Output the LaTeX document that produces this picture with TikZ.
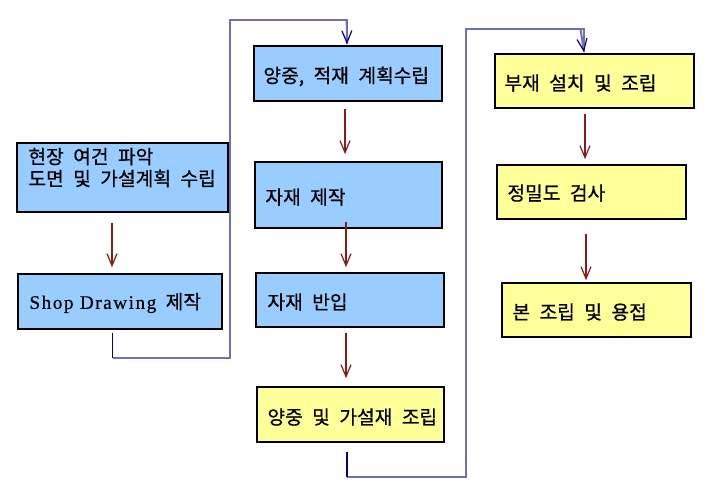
\documentclass[tikz,border=0pt]{standalone}
\usepackage{fontspec}
\setmainfont{Noto Sans CJK KR}[WordSpace=2.2, FakeBold=0.6]
\newfontfamily\latinfont{Liberation Serif}[LetterSpace=8, FakeBold=0.4]
\usetikzlibrary{arrows.meta,calc}
\definecolor{boxblue}{RGB}{153,204,255}
\definecolor{boxyellow}{RGB}{255,255,153}
\definecolor{arrred}{RGB}{139,26,26}
\definecolor{connblue}{RGB}{112,112,184}
\definecolor{connnavy}{RGB}{0,0,128}
\begin{document}
\begin{tikzpicture}[x=0.75pt,y=-0.75pt,
  bbox/.style={draw=black, fill=boxblue, line width=1.2pt, inner sep=0pt},
  ybox/.style={draw=black, fill=boxyellow, line width=1.2pt, inner sep=0pt},
  txt/.style={font=\fontsize{14.4pt}{16.5pt}\selectfont, inner sep=0pt, align=left, anchor=west},
  redarr/.style={draw=arrred, line width=0.9pt, -{Straight Barb[length=9pt,width=7.5pt,line width=0.9pt]}},
  navyline/.style={draw=connnavy, line width=1.1pt},
  conn/.style={draw=connblue, line width=1.5pt, line join=miter},
  connarr/.style={conn, -{Straight Barb[length=9pt,width=7.5pt,line width=0.9pt,color=connnavy]}}]
\useasboundingbox (0,0) rectangle (717,501);
% boxes
\node[bbox, minimum width=158.25pt, minimum height=51.75pt] (b1) at (122.5,177.5) {};
\node[bbox, minimum width=153pt, minimum height=41.25pt] (b2) at (120,301.5) {};
\node[bbox, minimum width=141pt, minimum height=41.25pt] (b3) at (348,73.5) {};
\node[bbox, minimum width=140.25pt, minimum height=49.5pt] (b4) at (348.5,195) {};
\node[bbox, minimum width=141pt, minimum height=40.5pt] (b5) at (350,300) {};
\node[ybox, minimum width=140.25pt, minimum height=41.25pt] (b6) at (350.5,414.5) {};
\node[ybox, minimum width=149.25pt, minimum height=40.5pt] (b7) at (594.5,81) {};
\node[ybox, minimum width=141.75pt, minimum height=40.5pt] (b8) at (591.5,192) {};
\node[ybox, minimum width=141.75pt, minimum height=40.5pt] (b9) at (596.5,310) {};
% texts
\node[txt] (t1) at ([shift={(12,-10)}]b1.west) {현장 여건 파악\\도면 및 가설계획 수립};
\node[txt] (t2) at ([shift={(12,1.5)}]b2.west) {{\latinfont Shop Drawing} 제작};
\node[txt] (t3) at ([shift={(10,3)}]b3.west) {양중, 적재 계획수립};
\node[txt] (t4) at ([shift={(11,2)}]b4.west) {자재 제작};
\node[txt] (t5) at ([shift={(12,2)}]b5.west) {자재 반입};
\node[txt] (t6) at ([shift={(11,2.5)}]b6.west) {양중 및 가설재 조립};
\node[txt] (t7) at ([shift={(10,2)}]b7.west) {부재 설치 및 조립};
\node[txt] (t8) at ([shift={(11,1)}]b8.west) {정밀도 검사};
\node[txt] (t9) at ([shift={(11,2)}]b9.west) {본 조립 및 용접};
% red arrows
\draw[redarr] ([shift={(-10.5,10)}]b1.south) -- ([shift={(-8,-6)}]b2.north);
\draw[redarr] ([shift={(-3,7)}]b3.south) -- ([shift={(-3.5,-7)}]b4.north);
\draw[redarr] ([shift={(-2.5,-7)}]b4.south) -- ([shift={(-4,-5)}]b5.north);
\draw[redarr] ([shift={(-4,5)}]b5.south) -- ([shift={(-4.5,-8)}]b6.north);
\draw[redarr] ([shift={(-9.5,5)}]b7.south) -- ([shift={(-6.5,-5)}]b8.north);
\draw[redarr] ([shift={(-5.5,14)}]b8.south) -- ([shift={(-10.5,-2)}]b9.north);
% blue connectors
\coordinate (k0) at (112.5,358);
\coordinate (k1) at (230,358);
\coordinate (k2) at (230,20);
\draw[conn] (k0) -- (k1) -- (k2) -| ([shift={(-1,-1)}]b3.north);
\draw[connarr] ([xshift=-1]b3.north |- k2) -- ([shift={(-1,-1)}]b3.north);
\draw[navyline] ([shift={(-7.5,3)}]b2.south) -- (k0);
\coordinate (k3) at (347,477);
\coordinate (k4) at (466,477);
\coordinate (k5) at (466,29);
\draw[conn] (k3) -- (k4) -- (k5) -| ([shift={(-10.5,-1)}]b7.north);
\draw[connarr] ([xshift=-10.5]b7.north |- k5) -- ([shift={(-10.5,-1)}]b7.north);
\draw[navyline] ([shift={(-3.5,9)}]b6.south) -- (k3);
\end{tikzpicture}
\end{document}
